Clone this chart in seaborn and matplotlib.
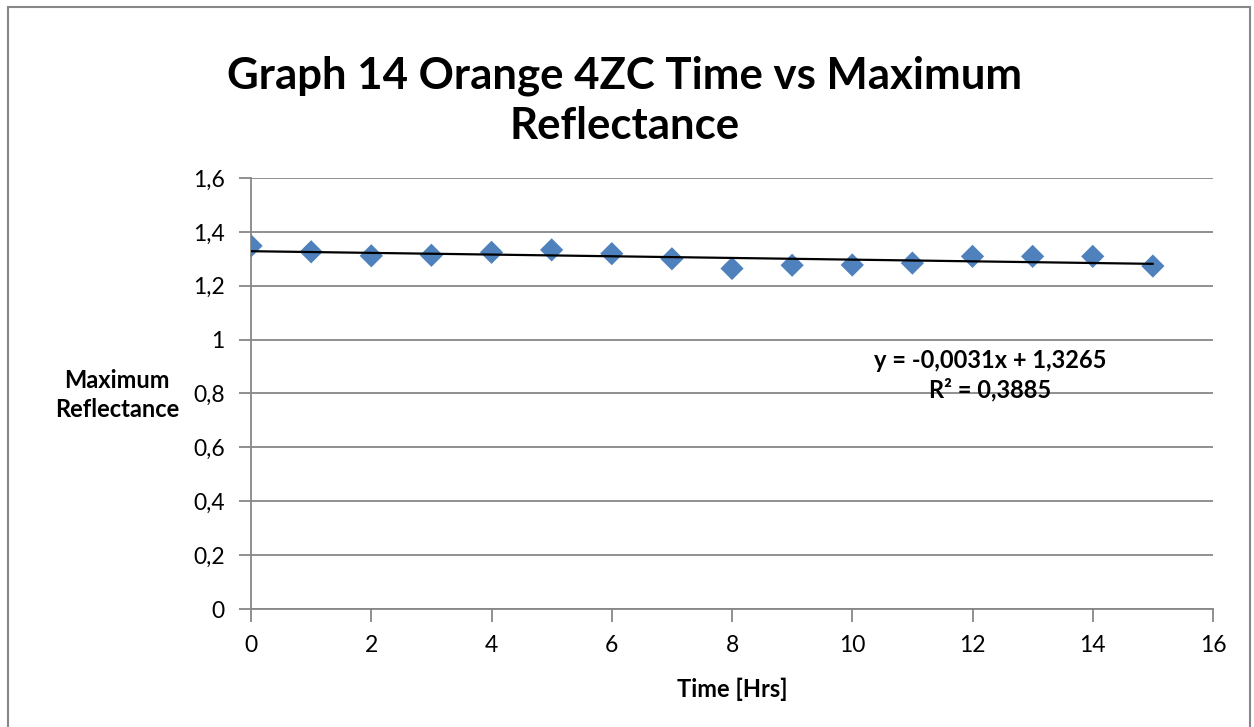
import numpy as np
import pandas as pd
import matplotlib
matplotlib.use("Agg")
import matplotlib.pyplot as plt
import seaborn as sns
from matplotlib.patches import Rectangle
from matplotlib.ticker import FuncFormatter

# data
time_hrs = [0, 1, 2, 3, 4, 5, 6, 7, 8, 9, 10, 11, 12, 13, 14, 15]
max_refl = [1.348, 1.326, 1.311, 1.313, 1.324, 1.333, 1.319, 1.300,
            1.264, 1.276, 1.277, 1.284, 1.309, 1.309, 1.309, 1.273]
x_ticks = [0, 2, 4, 6, 8, 10, 12, 14, 16]
y_ticks = [0, 0.2, 0.4, 0.6, 0.8, 1.0, 1.2, 1.4, 1.6]
eq_text = "y = -0,0031x + 1,3265\nR² = 0,3885"

df = pd.DataFrame({"Time": time_hrs, "Refl": max_refl})

sns.set_style("white")
plt.rcParams['font.family'] = ['Lato', 'DejaVu Sans']
plt.rcParams['text.color'] = 'black'
plt.rcParams['axes.labelcolor'] = 'black'

fig = plt.figure(figsize=(12.54, 7.27), dpi=100)
ax = fig.add_axes([0.2002, 0.1623, 0.7671, 0.5929])

sns.regplot(data=df, x="Time", y="Refl", ax=ax, ci=None, marker="D",
            scatter_kws={"s": 140, "color": "#4F81BD", "edgecolor": "none", "zorder": 3, "alpha": 1},
            line_kws={"color": "black", "lw": 1.6, "zorder": 4})

ax.set_xlim(0, 16)
ax.set_ylim(0, 1.6)
ax.set_xticks(x_ticks)
ax.set_yticks(y_ticks)
ax.yaxis.set_major_formatter(FuncFormatter(lambda v, p: ("%g" % round(v, 1)).replace(".", ",")))
ax.grid(axis="y", color="#878787", lw=1.3)
ax.set_axisbelow(True)
for s in ["top", "right"]:
    ax.spines[s].set_visible(False)
for s in ["left", "bottom"]:
    ax.spines[s].set_color("#878787")
    ax.spines[s].set_linewidth(1.3)
ax.tick_params(axis="both", direction="out", length=9, width=1.3, color="#878787",
               labelsize=16.5, labelcolor="black")
ax.tick_params(axis="x", bottom=True, pad=10)
ax.tick_params(axis="y", left=True, pad=10)

ax.set_xlabel("Time [Hrs]", fontsize=17, fontweight="bold", labelpad=15)
ax.set_ylabel("")
fig.text(117 / 1254, 1 - 395 / 727, "Maximum\nReflectance", fontsize=17, fontweight="bold",
         ha="center", va="center", linespacing=1.35)

fig.text(625 / 1254, 1 - 101 / 727, "Graph 14 Orange 4ZC Time vs Maximum\nReflectance",
         fontsize=31.5, fontweight="bold", ha="center", va="center", linespacing=1.3)

fig.text(990 / 1254, 1 - 375 / 727, eq_text, fontsize=17, fontweight="bold",
         ha="center", va="center", linespacing=1.3)

fig.patches.append(Rectangle((8 / 1254, -0.05), 1242 / 1254, 1 - 7 / 727 + 0.05,
                             transform=fig.transFigure, fill=False, edgecolor="#878787", lw=1.5))

fig.savefig("out.png", dpi=100, facecolor="white")
